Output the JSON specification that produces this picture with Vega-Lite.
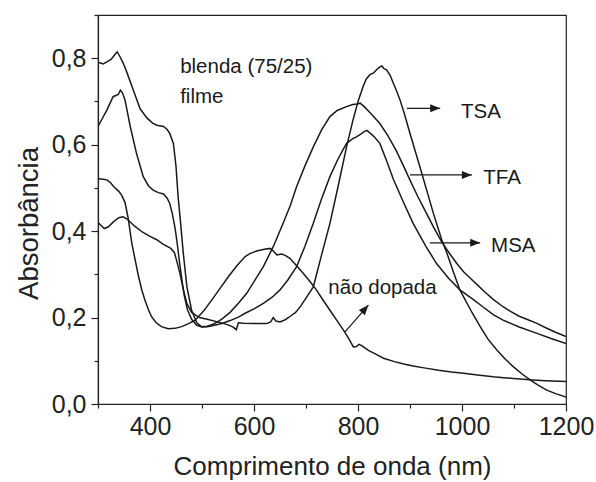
{
  "$schema": "https://vega.github.io/schema/vega-lite/v6.json",
  "width": 468,
  "height": 389,
  "autosize": {"type": "none"},
  "padding": {"left": 98, "top": 15, "right": 30, "bottom": 78},
  "background": "white",
  "config": {"view": {"stroke": "#222", "strokeWidth": 1.2}, "font": "Liberation Sans"},
  "datasets": {
    "curves": [
      {"s":"TSA","x":300,"y":0.420},{"s":"TSA","x":305,"y":0.414},{"s":"TSA","x":312,"y":0.406},{"s":"TSA","x":320,"y":0.410},{"s":"TSA","x":330,"y":0.422},{"s":"TSA","x":340,"y":0.431},{"s":"TSA","x":348,"y":0.433},{"s":"TSA","x":356,"y":0.428},{"s":"TSA","x":370,"y":0.412},{"s":"TSA","x":385,"y":0.398},{"s":"TSA","x":400,"y":0.388},{"s":"TSA","x":413,"y":0.380},{"s":"TSA","x":425,"y":0.370},{"s":"TSA","x":440,"y":0.360},{"s":"TSA","x":447,"y":0.350},{"s":"TSA","x":451,"y":0.333},{"s":"TSA","x":458,"y":0.300},{"s":"TSA","x":464,"y":0.265},{"s":"TSA","x":471,"y":0.232},{"s":"TSA","x":480,"y":0.212},{"s":"TSA","x":495,"y":0.200},{"s":"TSA","x":510,"y":0.196},{"s":"TSA","x":530,"y":0.190},{"s":"TSA","x":550,"y":0.183},{"s":"TSA","x":560,"y":0.178},{"s":"TSA","x":566,"y":0.172},{"s":"TSA","x":570,"y":0.188},{"s":"TSA","x":580,"y":0.187},{"s":"TSA","x":600,"y":0.186},{"s":"TSA","x":624,"y":0.186},{"s":"TSA","x":632,"y":0.190},{"s":"TSA","x":637,"y":0.200},{"s":"TSA","x":642,"y":0.192},{"s":"TSA","x":650,"y":0.190},{"s":"TSA","x":660,"y":0.195},{"s":"TSA","x":670,"y":0.203},{"s":"TSA","x":680,"y":0.212},{"s":"TSA","x":690,"y":0.227},{"s":"TSA","x":700,"y":0.245},{"s":"TSA","x":714,"y":0.271},{"s":"TSA","x":730,"y":0.345},{"s":"TSA","x":746,"y":0.418},{"s":"TSA","x":762,"y":0.505},{"s":"TSA","x":778,"y":0.595},{"s":"TSA","x":790,"y":0.655},{"s":"TSA","x":800,"y":0.700},{"s":"TSA","x":810,"y":0.735},{"s":"TSA","x":816,"y":0.752},{"s":"TSA","x":823,"y":0.762},{"s":"TSA","x":830,"y":0.766},{"s":"TSA","x":836,"y":0.774},{"s":"TSA","x":842,"y":0.780},{"s":"TSA","x":846,"y":0.782},{"s":"TSA","x":850,"y":0.776},{"s":"TSA","x":855,"y":0.773},{"s":"TSA","x":862,"y":0.760},{"s":"TSA","x":868,"y":0.742},{"s":"TSA","x":875,"y":0.722},{"s":"TSA","x":881,"y":0.703},{"s":"TSA","x":890,"y":0.668},{"s":"TSA","x":900,"y":0.626},{"s":"TSA","x":919,"y":0.549},{"s":"TSA","x":945,"y":0.441},{"s":"TSA","x":961,"y":0.380},{"s":"TSA","x":971,"y":0.349},{"s":"TSA","x":985,"y":0.300},{"s":"TSA","x":996,"y":0.264},{"s":"TSA","x":1002,"y":0.250},{"s":"TSA","x":1020,"y":0.210},{"s":"TSA","x":1035,"y":0.179},{"s":"TSA","x":1050,"y":0.150},{"s":"TSA","x":1067,"y":0.125},{"s":"TSA","x":1083,"y":0.104},{"s":"TSA","x":1099,"y":0.086},{"s":"TSA","x":1115,"y":0.070},{"s":"TSA","x":1131,"y":0.056},{"s":"TSA","x":1147,"y":0.043},{"s":"TSA","x":1163,"y":0.032},{"s":"TSA","x":1180,"y":0.024},{"s":"TSA","x":1200,"y":0.016},
      {"s":"TFA","x":300,"y":0.790},{"s":"TFA","x":305,"y":0.789},{"s":"TFA","x":310,"y":0.787},{"s":"TFA","x":318,"y":0.792},{"s":"TFA","x":325,"y":0.797},{"s":"TFA","x":333,"y":0.809},{"s":"TFA","x":337,"y":0.815},{"s":"TFA","x":342,"y":0.804},{"s":"TFA","x":348,"y":0.790},{"s":"TFA","x":355,"y":0.769},{"s":"TFA","x":368,"y":0.726},{"s":"TFA","x":381,"y":0.683},{"s":"TFA","x":394,"y":0.662},{"s":"TFA","x":405,"y":0.650},{"s":"TFA","x":413,"y":0.645},{"s":"TFA","x":426,"y":0.642},{"s":"TFA","x":433,"y":0.635},{"s":"TFA","x":438,"y":0.626},{"s":"TFA","x":445,"y":0.603},{"s":"TFA","x":450,"y":0.550},{"s":"TFA","x":454,"y":0.480},{"s":"TFA","x":458,"y":0.430},{"s":"TFA","x":464,"y":0.349},{"s":"TFA","x":471,"y":0.271},{"s":"TFA","x":480,"y":0.217},{"s":"TFA","x":490,"y":0.188},{"s":"TFA","x":499,"y":0.179},{"s":"TFA","x":510,"y":0.180},{"s":"TFA","x":520,"y":0.184},{"s":"TFA","x":530,"y":0.190},{"s":"TFA","x":540,"y":0.198},{"s":"TFA","x":554,"y":0.212},{"s":"TFA","x":570,"y":0.233},{"s":"TFA","x":586,"y":0.256},{"s":"TFA","x":600,"y":0.283},{"s":"TFA","x":618,"y":0.318},{"s":"TFA","x":637,"y":0.364},{"s":"TFA","x":656,"y":0.418},{"s":"TFA","x":670,"y":0.460},{"s":"TFA","x":682,"y":0.503},{"s":"TFA","x":698,"y":0.551},{"s":"TFA","x":714,"y":0.595},{"s":"TFA","x":730,"y":0.634},{"s":"TFA","x":746,"y":0.665},{"s":"TFA","x":760,"y":0.679},{"s":"TFA","x":778,"y":0.688},{"s":"TFA","x":790,"y":0.693},{"s":"TFA","x":798,"y":0.694},{"s":"TFA","x":804,"y":0.696},{"s":"TFA","x":812,"y":0.688},{"s":"TFA","x":820,"y":0.678},{"s":"TFA","x":830,"y":0.665},{"s":"TFA","x":842,"y":0.649},{"s":"TFA","x":858,"y":0.620},{"s":"TFA","x":874,"y":0.585},{"s":"TFA","x":887,"y":0.552},{"s":"TFA","x":900,"y":0.518},{"s":"TFA","x":915,"y":0.480},{"s":"TFA","x":930,"y":0.445},{"s":"TFA","x":945,"y":0.410},{"s":"TFA","x":961,"y":0.375},{"s":"TFA","x":975,"y":0.350},{"s":"TFA","x":990,"y":0.325},{"s":"TFA","x":1003,"y":0.306},{"s":"TFA","x":1015,"y":0.292},{"s":"TFA","x":1030,"y":0.275},{"s":"TFA","x":1045,"y":0.258},{"s":"TFA","x":1060,"y":0.242},{"s":"TFA","x":1079,"y":0.225},{"s":"TFA","x":1095,"y":0.213},{"s":"TFA","x":1110,"y":0.203},{"s":"TFA","x":1127,"y":0.195},{"s":"TFA","x":1143,"y":0.187},{"s":"TFA","x":1160,"y":0.177},{"s":"TFA","x":1180,"y":0.166},{"s":"TFA","x":1200,"y":0.156},
      {"s":"MSA","x":300,"y":0.642},{"s":"MSA","x":308,"y":0.660},{"s":"MSA","x":317,"y":0.680},{"s":"MSA","x":329,"y":0.711},{"s":"MSA","x":339,"y":0.716},{"s":"MSA","x":343,"y":0.726},{"s":"MSA","x":347,"y":0.720},{"s":"MSA","x":352,"y":0.703},{"s":"MSA","x":362,"y":0.642},{"s":"MSA","x":374,"y":0.580},{"s":"MSA","x":387,"y":0.526},{"s":"MSA","x":397,"y":0.505},{"s":"MSA","x":406,"y":0.495},{"s":"MSA","x":416,"y":0.489},{"s":"MSA","x":426,"y":0.486},{"s":"MSA","x":433,"y":0.476},{"s":"MSA","x":438,"y":0.464},{"s":"MSA","x":443,"y":0.440},{"s":"MSA","x":448,"y":0.408},{"s":"MSA","x":452,"y":0.375},{"s":"MSA","x":456,"y":0.335},{"s":"MSA","x":461,"y":0.290},{"s":"MSA","x":466,"y":0.250},{"s":"MSA","x":472,"y":0.218},{"s":"MSA","x":480,"y":0.196},{"s":"MSA","x":490,"y":0.182},{"s":"MSA","x":500,"y":0.178},{"s":"MSA","x":510,"y":0.179},{"s":"MSA","x":520,"y":0.181},{"s":"MSA","x":540,"y":0.187},{"s":"MSA","x":554,"y":0.193},{"s":"MSA","x":570,"y":0.201},{"s":"MSA","x":583,"y":0.210},{"s":"MSA","x":600,"y":0.220},{"s":"MSA","x":618,"y":0.233},{"s":"MSA","x":635,"y":0.247},{"s":"MSA","x":650,"y":0.264},{"s":"MSA","x":665,"y":0.287},{"s":"MSA","x":682,"y":0.318},{"s":"MSA","x":698,"y":0.365},{"s":"MSA","x":714,"y":0.418},{"s":"MSA","x":730,"y":0.475},{"s":"MSA","x":746,"y":0.526},{"s":"MSA","x":762,"y":0.568},{"s":"MSA","x":778,"y":0.603},{"s":"MSA","x":790,"y":0.614},{"s":"MSA","x":797,"y":0.618},{"s":"MSA","x":806,"y":0.625},{"s":"MSA","x":812,"y":0.630},{"s":"MSA","x":817,"y":0.633},{"s":"MSA","x":825,"y":0.625},{"s":"MSA","x":832,"y":0.617},{"s":"MSA","x":842,"y":0.603},{"s":"MSA","x":855,"y":0.563},{"s":"MSA","x":868,"y":0.520},{"s":"MSA","x":887,"y":0.468},{"s":"MSA","x":906,"y":0.418},{"s":"MSA","x":930,"y":0.366},{"s":"MSA","x":951,"y":0.325},{"s":"MSA","x":975,"y":0.290},{"s":"MSA","x":996,"y":0.264},{"s":"MSA","x":1020,"y":0.243},{"s":"MSA","x":1040,"y":0.225},{"s":"MSA","x":1060,"y":0.207},{"s":"MSA","x":1079,"y":0.194},{"s":"MSA","x":1110,"y":0.178},{"s":"MSA","x":1143,"y":0.164},{"s":"MSA","x":1170,"y":0.152},{"s":"MSA","x":1200,"y":0.140},
      {"s":"ND","x":300,"y":0.521},{"s":"ND","x":310,"y":0.520},{"s":"ND","x":318,"y":0.518},{"s":"ND","x":324,"y":0.512},{"s":"ND","x":330,"y":0.503},{"s":"ND","x":340,"y":0.492},{"s":"ND","x":346,"y":0.482},{"s":"ND","x":352,"y":0.466},{"s":"ND","x":358,"y":0.430},{"s":"ND","x":365,"y":0.372},{"s":"ND","x":372,"y":0.330},{"s":"ND","x":378,"y":0.295},{"s":"ND","x":384,"y":0.265},{"s":"ND","x":390,"y":0.241},{"s":"ND","x":397,"y":0.218},{"s":"ND","x":403,"y":0.202},{"s":"ND","x":412,"y":0.188},{"s":"ND","x":422,"y":0.179},{"s":"ND","x":435,"y":0.174},{"s":"ND","x":448,"y":0.175},{"s":"ND","x":461,"y":0.179},{"s":"ND","x":474,"y":0.186},{"s":"ND","x":487,"y":0.194},{"s":"ND","x":503,"y":0.215},{"s":"ND","x":519,"y":0.241},{"s":"ND","x":535,"y":0.268},{"s":"ND","x":551,"y":0.295},{"s":"ND","x":567,"y":0.320},{"s":"ND","x":583,"y":0.341},{"s":"ND","x":592,"y":0.348},{"s":"ND","x":605,"y":0.354},{"s":"ND","x":620,"y":0.358},{"s":"ND","x":631,"y":0.360},{"s":"ND","x":637,"y":0.354},{"s":"ND","x":644,"y":0.345},{"s":"ND","x":653,"y":0.347},{"s":"ND","x":660,"y":0.344},{"s":"ND","x":669,"y":0.337},{"s":"ND","x":682,"y":0.320},{"s":"ND","x":695,"y":0.302},{"s":"ND","x":708,"y":0.283},{"s":"ND","x":720,"y":0.264},{"s":"ND","x":733,"y":0.240},{"s":"ND","x":746,"y":0.217},{"s":"ND","x":759,"y":0.194},{"s":"ND","x":772,"y":0.171},{"s":"ND","x":782,"y":0.152},{"s":"ND","x":791,"y":0.132},{"s":"ND","x":797,"y":0.133},{"s":"ND","x":802,"y":0.138},{"s":"ND","x":807,"y":0.135},{"s":"ND","x":820,"y":0.124},{"s":"ND","x":835,"y":0.115},{"s":"ND","x":849,"y":0.106},{"s":"ND","x":870,"y":0.098},{"s":"ND","x":890,"y":0.092},{"s":"ND","x":906,"y":0.088},{"s":"ND","x":930,"y":0.083},{"s":"ND","x":955,"y":0.078},{"s":"ND","x":980,"y":0.074},{"s":"ND","x":1003,"y":0.071},{"s":"ND","x":1030,"y":0.067},{"s":"ND","x":1060,"y":0.063},{"s":"ND","x":1080,"y":0.061},{"s":"ND","x":1099,"y":0.059},{"s":"ND","x":1130,"y":0.056},{"s":"ND","x":1160,"y":0.054},{"s":"ND","x":1200,"y":0.052}
    ],
    "arrows": [
      {"k":"h","x":894,"y":0.684,"x2":958,"y2":0.684},
      {"k":"h","x":900,"y":0.530,"x2":1019,"y2":0.530},
      {"k":"h","x":938,"y":0.373,"x2":1035,"y2":0.373},
      {"k":"d","x":775,"y":0.167,"x2":820,"y2":0.229}
    ],
    "heads": [
      {"k":"h","x":958,"y":0.684},
      {"k":"h","x":1019,"y":0.530},
      {"k":"h","x":1035,"y":0.373},
      {"k":"d","x":820,"y":0.229}
    ],
    "labels": [
      {"t":"blenda (75/25)","x":458,"y":0.780},
      {"t":"filme","x":458,"y":0.711},
      {"t":"TSA","x":998,"y":0.676},
      {"t":"TFA","x":1041,"y":0.524},
      {"t":"MSA","x":1056,"y":0.366},
      {"t":"não dopada","x":743,"y":0.268}
    ]
  },
  "encoding": {
    "x": {
      "field": "x", "type": "quantitative",
      "scale": {"domain": [300, 1200], "nice": false, "zero": false},
      "axis": {
        "title": "Comprimento de onda (nm)",
        "values": [300, 400, 500, 600, 700, 800, 900, 1000, 1100, 1200],
        "labelExpr": "datum.value % 200 == 0 ? '' + datum.value : ''",
        "tickSize": {"condition": {"test": "datum.value % 200 == 0", "value": 7}, "value": 4},
        "grid": false, "labelOverlap": false, "labelFlush": false,
        "domainColor": "#222", "tickColor": "#222", "tickWidth": 1.2, "domainWidth": 1.2,
        "labelFont": "Liberation Sans", "labelFontSize": 25, "labelColor": "#222", "labelPadding": 3,
        "titleFont": "Liberation Sans", "titleFontSize": 26, "titleFontWeight": "normal", "titleColor": "#222", "titlePadding": 14
      }
    },
    "y": {
      "field": "y", "type": "quantitative",
      "scale": {"domain": [0, 0.9], "nice": false},
      "axis": {
        "title": "Absorbância",
        "values": [0, 0.1, 0.2, 0.3, 0.4, 0.5, 0.6, 0.7, 0.8, 0.9],
        "labelExpr": "abs(datum.value*5 - round(datum.value*5)) < 0.001 ? replace(format(datum.value, '.1f'), '.', ',') : ''",
        "tickSize": {"condition": {"test": "abs(datum.value*5 - round(datum.value*5)) < 0.001", "value": 7}, "value": 4},
        "grid": false, "labelOverlap": false, "labelFlush": false,
        "domainColor": "#222", "tickColor": "#222", "tickWidth": 1.2, "domainWidth": 1.2,
        "labelFont": "Liberation Sans", "labelFontSize": 25, "labelColor": "#222", "labelPadding": 5,
        "titleFont": "Liberation Sans", "titleFontSize": 27.5, "titleFontWeight": "normal", "titleColor": "#222", "titlePadding": 8, "titleY": 208
      }
    }
  },
  "layer": [
    {
      "data": {"name": "curves"},
      "mark": {"type": "line", "color": "#1a1a1a", "strokeWidth": 1.5, "clip": true},
      "encoding": {"detail": {"field": "s", "type": "nominal"}}
    },
    {
      "data": {"name": "arrows"},
      "mark": {"type": "rule", "color": "#1a1a1a", "strokeWidth": 1.2},
      "encoding": {"x2": {"field": "x2"}, "y2": {"field": "y2"}}
    },
    {
      "data": {"name": "heads"},
      "transform": [{"filter": "datum.k == 'h'"}],
      "mark": {"type": "point", "shape": "M0,0L-1,-0.4L-1,0.4Z", "filled": true, "color": "#1a1a1a", "opacity": 1, "size": 400, "angle": 0},
      "encoding": {}
    },
    {
      "data": {"name": "heads"},
      "transform": [{"filter": "datum.k == 'd'"}],
      "mark": {"type": "point", "shape": "M0,0L-1,-0.4L-1,0.4Z", "filled": true, "color": "#1a1a1a", "opacity": 1, "size": 400, "angle": -49},
      "encoding": {}
    },
    {
      "data": {"name": "labels"},
      "mark": {"type": "text", "align": "left", "baseline": "middle", "font": "Liberation Sans", "fontSize": 20.5, "color": "#1a1a1a"},
      "encoding": {"text": {"field": "t", "type": "nominal"}}
    }
  ]
}
